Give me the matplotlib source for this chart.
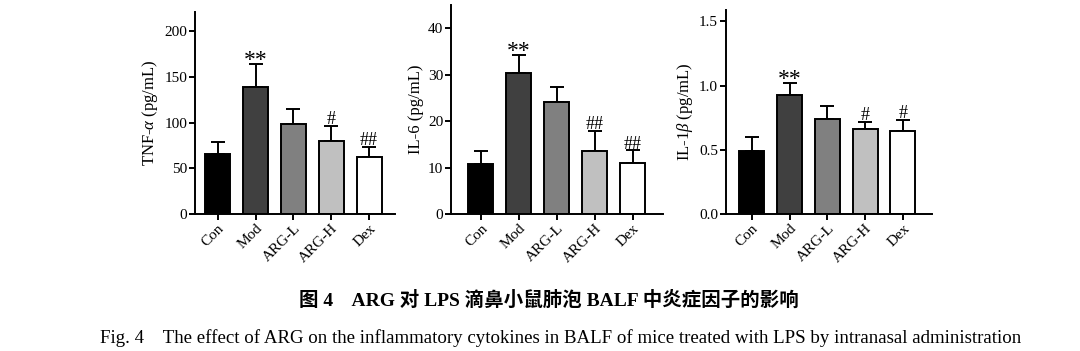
import matplotlib
matplotlib.use('Agg')
import matplotlib.pyplot as plt
import numpy as np

plt.rcParams['font.family'] = ['Liberation Serif', 'Noto Sans CJK SC']
plt.rcParams['mathtext.fontset'] = 'custom'
plt.rcParams['mathtext.it'] = 'Liberation Serif:italic'
plt.rcParams['mathtext.rm'] = 'Liberation Serif'

groups = ['Con', 'Mod', 'ARG-L', 'ARG-H', 'Dex']
bar_colors = ['#000000', '#404040', '#808080', '#c0c0c0', '#ffffff']

tnf_mean = [66, 139, 99, 80, 62]
tnf_err = [13, 25, 16, 16, 11]
tnf_marks = ['', '**', '', '#', '##']

il6_mean = [10.8, 30.3, 24.1, 13.5, 10.9]
il6_err = [2.7, 3.9, 3.2, 4.3, 2.8]
il6_marks = ['', '**', '', '##', '##']

il1b_mean = [0.49, 0.93, 0.74, 0.665, 0.645]
il1b_err = [0.11, 0.09, 0.10, 0.055, 0.085]
il1b_marks = ['', '**', '', '#', '#']

panels = [
    dict(mean=tnf_mean, err=tnf_err, marks=tnf_marks, label=r'TNF-$\mathit{\alpha}$ (pg/mL)',
         ylim=221, ticks=[0, 50, 100, 150, 200], fmt='{:.0f}',
         pos=[0.1806, 0.390, 0.185, 0.576], xlim=(-0.6, 4.68)),
    dict(mean=il6_mean, err=il6_err, marks=il6_marks, label='IL-6 (pg/mL)',
         ylim=45, ticks=[0, 10, 20, 30, 40], fmt='{:.0f}',
         pos=[0.4176, 0.390, 0.196, 0.596], xlim=(-0.79, 4.79)),
    dict(mean=il1b_mean, err=il1b_err, marks=il1b_marks, label=r'IL-1$\mathit{\beta}$ (pg/mL)',
         ylim=1.59, ticks=[0.0, 0.5, 1.0, 1.5], fmt='{:.1f}',
         pos=[0.672, 0.390, 0.191, 0.582], xlim=(-0.69, 4.77)),
]

fig = plt.figure(figsize=(10.8, 3.51), dpi=100)

for p in panels:
    ax = fig.add_axes(p['pos'])
    x = np.arange(len(groups))
    ax.bar(x, p['mean'], width=0.66, color=bar_colors, edgecolor='black', linewidth=1.4, zorder=2)
    ax.errorbar(x, p['mean'], yerr=[np.zeros(len(x)), p['err']], fmt='none', ecolor='black',
                elinewidth=1.4, capsize=5, capthick=1.4, zorder=1)
    for i, m in enumerate(p['marks']):
        if m == '**':
            ax.annotate(m, (x[i], p['mean'][i] + p['err'][i]), xytext=(0, -5),
                        textcoords='offset points', ha='center', va='bottom', fontsize=17)
        elif m:
            ax.annotate(m, (x[i], p['mean'][i] + p['err'][i]), xytext=(0, -1.5),
                        textcoords='offset points', ha='center', va='bottom', fontsize=13)
    ax.set_xlim(*p['xlim'])
    ax.set_ylim(0, p['ylim'])
    ax.set_yticks(p['ticks'])
    ax.set_yticklabels([p['fmt'].format(t) for t in p['ticks']], fontsize=11)
    ax.set_xticks(x)
    ax.set_xticklabels(groups, rotation=45, ha='right', rotation_mode='anchor', fontsize=11)
    ax.set_ylabel(p['label'], fontsize=12, labelpad=3)
    for s in ['top', 'right']:
        ax.spines[s].set_visible(False)
    for s in ['left', 'bottom']:
        ax.spines[s].set_linewidth(1.4)
    ax.tick_params(axis='both', direction='out', length=4, width=1.4, pad=1.5)

fig.text(0.508, 0.145, '图 4    ARG 对 LPS 滴鼻小鼠肺泡 BALF 中炎症因子的影响',
         ha='center', va='center', fontsize=14, fontweight='bold')
fig.text(0.0926, 0.037, 'Fig. 4    The effect of ARG on the inflammatory cytokines in BALF of mice treated with LPS by intranasal administration',
         ha='left', va='center', fontsize=13.6)

fig.savefig('out.png', dpi=100)
